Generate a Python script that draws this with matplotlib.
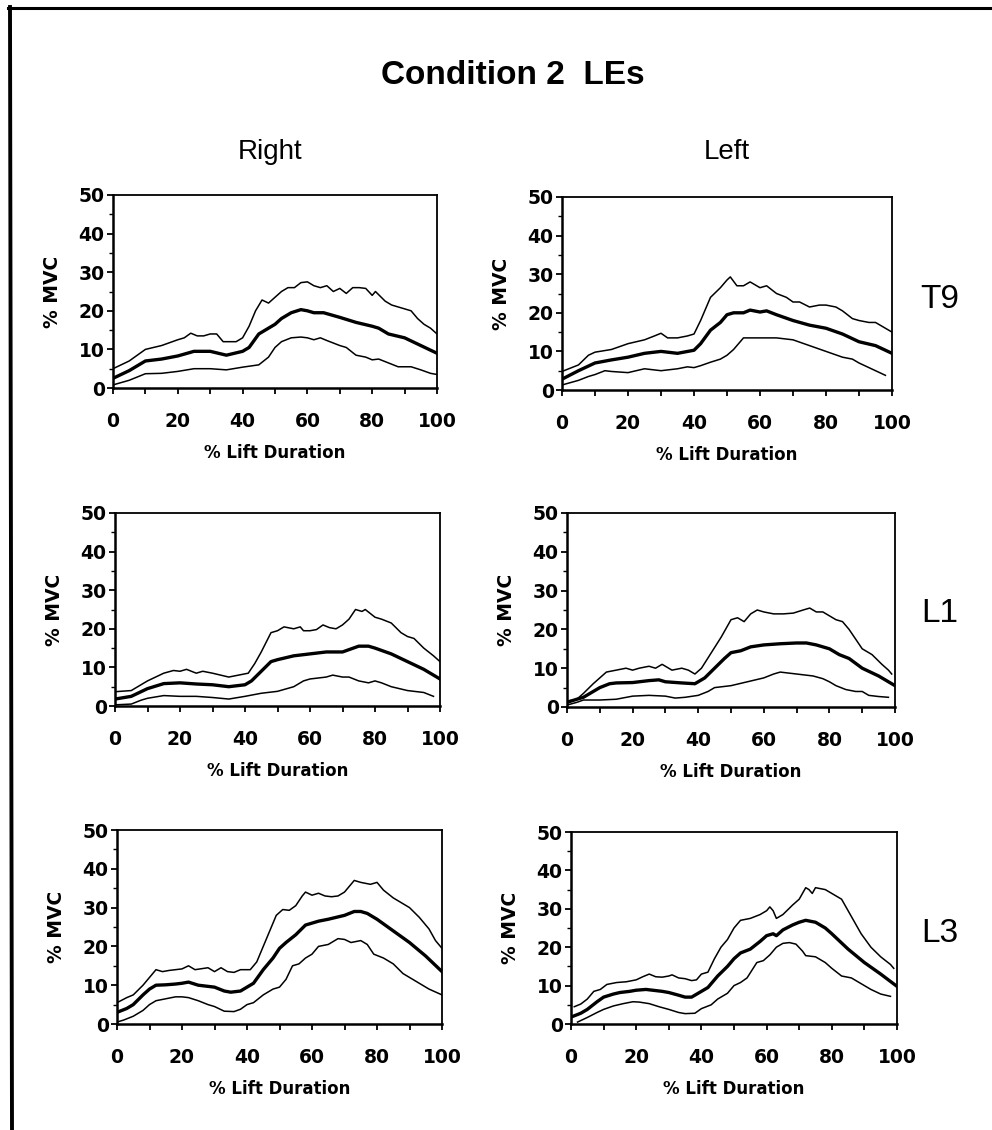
import matplotlib
matplotlib.use("Agg")
import matplotlib.pyplot as plt
from matplotlib.lines import Line2D
from matplotlib.ticker import MultipleLocator

# ---------------- data ----------------
title = "Condition 2  LEs"
col_titles = ["Right", "Left"]
row_titles = ["T9", "L1", "L3"]
x_label = "% Lift Duration"
y_label = "% MVC"

# Right T9
rt9_up_x = [0,5,10,15,20,22,24,26,28,30,32,34,36,38,40,42,44,46,48,50,52,54,56,58,60,62,64,66,68,70,72,74,76,78,80,81,84,86,88,90,92,94,96,98,100]
rt9_up = [5,7,10,11,12.5,13,14.2,13.5,13.5,14,14,12,12,12,13,16,20,22.8,22,23.5,25,26,26,27.3,27.5,26.5,26,26.5,25,25.8,24.5,26,26,25.8,24,25,22.5,21.5,21,20.5,20,18,16.5,15.5,14]
rt9_mean_x = [0,5,10,15,20,25,30,35,40,42,45,48,50,52,55,58,60,62,65,70,75,80,82,85,90,95,100]
rt9_mean = [2.5,4.5,7,7.5,8.3,9.5,9.5,8.5,9.5,10.5,14,15.5,16.5,18,19.5,20.3,20,19.5,19.5,18.3,17,16,15.5,14,13,11,9]
rt9_lo_x = [0,5,10,15,20,25,30,35,40,45,48,50,52,55,58,60,62,64,66,70,72,75,78,80,82,85,88,90,92,95,98,100]
rt9_lo = [0.8,2,3.7,3.8,4.3,5,5,4.7,5.4,6,8,10.5,12,13,13.2,13,12.5,13,12.3,11,10.5,8.5,8,7.3,7.5,6.5,5.5,5.5,5.5,4.7,3.8,3.5]

# Left T9
lt9_up_x = [0,5,8,10,15,20,25,28,30,32,35,38,40,42,45,48,50,51,53,55,57,60,62,65,68,70,72,75,78,80,83,85,88,90,93,95,98,100]
lt9_up = [4.8,6.5,9,9.8,10.5,12,13,14,14.7,13.5,13.5,14,14.5,18,24,26.5,28.5,29.3,27,27,28,26.5,27,25,24,22.8,22.8,21.5,22,22,21.5,20.5,18.5,18,17.5,17.5,16,15]
lt9_mean_x = [0,5,10,15,20,25,30,35,40,42,45,48,50,52,55,57,60,62,65,70,75,80,85,90,95,100]
lt9_mean = [2.8,5,7,7.8,8.5,9.5,10,9.5,10.3,12,15.5,17.5,19.5,20,20,20.7,20.2,20.5,19.5,18,16.8,16,14.5,12.5,11.5,9.5]
lt9_lo_x = [0,5,8,10,13,15,20,25,30,35,38,40,42,45,48,50,52,55,60,65,70,75,80,85,88,90,95,98]
lt9_lo = [1.3,2.5,3.5,4,5,4.8,4.5,5.5,5,5.5,6,5.8,6.3,7.2,8,9,10.5,13.5,13.5,13.5,13,11.5,10,8.5,8,7,5,3.8]

# Right L1
rl1_up_x = [0,5,10,15,18,20,22,25,27,30,35,38,41,43,45,48,50,52,55,57,58,60,62,64,66,68,70,72,74,76,77,80,82,85,88,90,92,95,98,100]
rl1_up = [3.7,4,6.5,8.5,9.2,9,9.5,8.5,9,8.5,7.5,8,8.5,11,14,19,19.5,20.5,20,20.5,19.5,19.5,19.8,21,20.3,20,21,22.5,25,24.5,25,23,22.5,21.5,19,18,17.5,15,13,11.5]
rl1_mean_x = [0,5,10,15,20,25,30,35,40,42,45,48,50,55,60,65,70,75,78,80,85,90,95,100]
rl1_mean = [1.8,2.5,4.5,5.8,6,5.7,5.5,5,5.5,6.5,9,11.5,12,13,13.5,14,14,15.5,15.5,15,13.5,11.5,9.5,7]
rl1_lo_x = [0,5,8,10,15,20,25,30,35,40,45,50,55,58,60,65,67,70,72,75,78,80,82,85,90,95,98]
rl1_lo = [0.3,0.5,1.5,2,2.7,2.5,2.5,2.2,1.8,2.5,3.3,3.8,5,6.5,7,7.5,8,7.5,7.5,6.5,6,6.5,6,5,4,3.5,2.5]

# Left L1
ll1_up_x = [0,3,5,8,10,12,15,18,20,22,25,27,29,32,35,37,39,41,44,47,50,52,54,56,58,60,63,66,69,72,74,76,78,80,82,84,86,88,90,93,96,98,99]
ll1_up = [1.5,2,3.5,6,7.5,9,9.5,10,9.5,10,10.5,10,11,9.5,10,9.5,8.5,10,14,18,22.5,23,22,24,25,24.5,24,24,24.2,25,25.5,24.5,24.5,23.5,22.5,22,20,17.5,15,13.5,11,9.5,8.5]
ll1_mean_x = [0,3,5,8,10,13,15,20,25,28,30,35,39,42,45,48,50,53,56,60,65,70,73,76,80,83,86,90,95,100]
ll1_mean = [1.2,2,2.5,4,5,6,6.2,6.3,6.8,7,6.5,6.2,6,7.5,10,12.5,14,14.5,15.5,16,16.3,16.5,16.5,16,15,13.5,12.5,10,8,5.5]
ll1_lo_x = [0,3,5,10,15,20,25,30,33,36,40,43,45,50,55,60,63,65,70,75,78,80,82,85,88,90,92,95,98]
ll1_lo = [0.5,1.2,1.8,1.8,2,2.8,3,2.8,2.3,2.5,3,4,5,5.5,6.5,7.5,8.5,9,8.5,8,7.3,6.5,5.5,4.5,4,4,3,2.7,2.5]

# Right L3
rl3_up_x = [0,3,5,8,10,12,14,16,20,22,24,28,30,32,34,36,38,41,43,45,47,49,51,53,55,57,58,60,62,64,66,68,70,72,73,75,78,80,82,85,88,90,93,96,98,100]
rl3_up = [5.5,6.8,7.5,10,12,14,13.5,13.8,14.2,15,14,14.5,13.5,14.5,13.5,13.3,14,14,16,20,24,28,29.5,29.3,30.5,33,34,33.2,33.7,33,32.8,33,34,36,37,36.5,36,36.5,34.5,32.5,31,30,27.5,24.5,21.5,19.5]
rl3_mean_x = [0,3,5,8,10,12,15,18,20,22,25,30,33,35,38,40,42,45,48,50,52,55,58,60,62,65,70,73,75,77,80,85,90,95,100]
rl3_mean = [3,4,5,7.5,9,10,10.1,10.3,10.5,10.8,10,9.5,8.5,8.2,8.5,9.5,10.5,14,17,19.5,21,23,25.5,26,26.5,27,28,29,29,28.5,27,24,21,17.5,13.5]
rl3_lo_x = [0,2,5,8,10,12,15,18,20,22,25,28,30,33,36,38,40,42,45,48,50,52,54,56,58,60,62,65,68,70,72,75,77,79,82,85,88,90,93,96,100]
rl3_lo = [0.5,1,2,3.5,5,6,6.5,7,7,6.8,6,5,4.5,3.3,3.2,3.8,5,5.5,7.5,9,9.5,11.5,15,15.5,17,18,20,20.5,22,21.8,21,21.5,20.5,18,17,15.5,13,12,10.5,9,7.5]

# Left L3
ll3_up_x = [1,3,5,7,9,11,14,17,20,22,24,26,28,30,31,33,35,37,38.5,40,42,44,46,48,50,52,55,58,60,61,62,63,65,68,70,72,73,74,75,78,80,83,86,89,92,95,98,99]
ll3_up = [4.5,5.2,6.5,8.5,9,10.3,10.8,11,11.5,12.3,13,12.3,12.2,12.5,12.8,12,11.8,11.3,11.5,13,13.5,17,20,22,25,27,27.5,28.5,29.5,30.5,29.5,27.5,28.5,31,32.5,35.5,35,34,35.5,35,34,32.5,28,23.5,20,17.5,15.5,14.5]
ll3_mean_x = [0,3,5,8,10,13,15,18,20,23,25,28,30,33,35,37,40,42,45,48,50,52,55,58,60,62,63,65,68,70,72,75,78,80,85,90,95,100]
ll3_mean = [1.8,2.8,3.8,5.8,7,7.8,8.2,8.5,8.8,9,8.8,8.5,8.2,7.5,7,7,8.5,9.5,12.5,15,17,18.5,19.5,21.5,23,23.5,23,24.5,25.8,26.5,27,26.5,25,23.5,19.5,16,13,9.8]
ll3_lo_x = [2,5,8,10,13,16,19,21,24,27,30,33,35,38,40,43,45,48,50,52,54,57,59,61,63,65,67,69,71,72,75,78,80,83,86,88,92,95,98]
ll3_lo = [0.5,1.7,3,3.8,4.7,5.3,5.8,5.7,5.3,4.5,3.8,3,2.7,2.8,4,5,6.5,8,10,10.8,12,16,16.5,18,20,21,21.2,20.8,19,17.8,17.5,16,14.5,12.5,12,11,9,7.8,7.2]

x_ticks = [0, 20, 40, 60, 80, 100]
y_ticks = [0, 10, 20, 30, 40, 50]

panels = [
    [(rt9_up_x, rt9_up, rt9_mean_x, rt9_mean, rt9_lo_x, rt9_lo),
     (lt9_up_x, lt9_up, lt9_mean_x, lt9_mean, lt9_lo_x, lt9_lo)],
    [(rl1_up_x, rl1_up, rl1_mean_x, rl1_mean, rl1_lo_x, rl1_lo),
     (ll1_up_x, ll1_up, ll1_mean_x, ll1_mean, ll1_lo_x, ll1_lo)],
    [(rl3_up_x, rl3_up, rl3_mean_x, rl3_mean, rl3_lo_x, rl3_lo),
     (ll3_up_x, ll3_up, ll3_mean_x, ll3_mean, ll3_lo_x, ll3_lo)],
]

# ---------------- layout ----------------
W, H = 992, 1130
fig = plt.figure(figsize=(W / 100, H / 100), dpi=100)
fig.patch.set_facecolor("white")

# axes boxes in pixels: left, top, right, bottom
boxes = [
    [(113, 195, 437, 388), (562, 197, 892, 390)],
    [(115, 513, 440, 706), (567, 513, 895, 707)],
    [(117, 830, 442, 1024), (571, 832, 897, 1024)],
]

tick_font = dict(family="DejaVu Sans", weight="bold", size=13.5)

for r in range(3):
    for c in range(2):
        l, t, rr, b = boxes[r][c]
        ax = fig.add_axes([l / W, 1 - b / H, (rr - l) / W, (b - t) / H])
        ux, uy, mx, my, lx, ly = panels[r][c]
        ax.plot(ux, uy, color="black", lw=1.1)
        ax.plot(lx, ly, color="black", lw=1.1)
        ax.plot(mx, my, color="black", lw=2.4)
        ax.set_xlim(0, 100)
        ax.set_ylim(0, 50)
        ax.set_xticks(x_ticks)
        ax.set_yticks(y_ticks)
        ax.xaxis.set_minor_locator(MultipleLocator(10))
        ax.yaxis.set_minor_locator(MultipleLocator(5))
        ax.tick_params(axis="x", which="both", direction="out", length=4.5, width=1.3, pad=13)
        ax.tick_params(axis="y", which="major", direction="out", length=4.5, width=1.3, pad=1.5)
        ax.tick_params(axis="y", which="minor", direction="out", length=3, width=1.0)
        for lab in ax.get_xticklabels() + ax.get_yticklabels():
            lab.set_fontfamily(tick_font["family"])
            lab.set_fontweight(tick_font["weight"])
            lab.set_fontsize(tick_font["size"])
        ax.set_xlabel(x_label, fontfamily="DejaVu Sans", fontweight="bold", fontsize=12, labelpad=9)
        ax.set_ylabel(y_label, fontfamily="DejaVu Sans", fontweight="bold", fontsize=13.5, labelpad=12)
        ax.spines["left"].set_linewidth(1.8)
        ax.spines["bottom"].set_linewidth(1.8)
        ax.spines["top"].set_linewidth(1.3)
        ax.spines["right"].set_linewidth(1.3)

# titles
fig.text(513 / W, 1 - 75 / H, title, ha="center", va="center",
         fontfamily="Liberation Sans", fontweight="bold", fontsize=24)
fig.text(270 / W, 1 - 152 / H, col_titles[0], ha="center", va="center",
         fontfamily="Liberation Sans", fontsize=20)
fig.text(727 / W, 1 - 152 / H, col_titles[1], ha="center", va="center",
         fontfamily="Liberation Sans", fontsize=20)
for lab, yy in zip(row_titles, [300, 614, 933]):
    fig.text(940 / W, 1 - yy / H, lab, ha="center", va="center",
             fontfamily="Liberation Sans", fontsize=24)

# frame lines (left and top)
fig.add_artist(Line2D([10 / W, 12 / W], [1 - 7 / H, 0], transform=fig.transFigure,
                      color="black", lw=2.8))
fig.add_artist(Line2D([8 / W, 1.0], [1 - 8 / H, 1 - 8 / H], transform=fig.transFigure,
                      color="black", lw=2.2))

fig.savefig("out.png", dpi=100, facecolor="white")
